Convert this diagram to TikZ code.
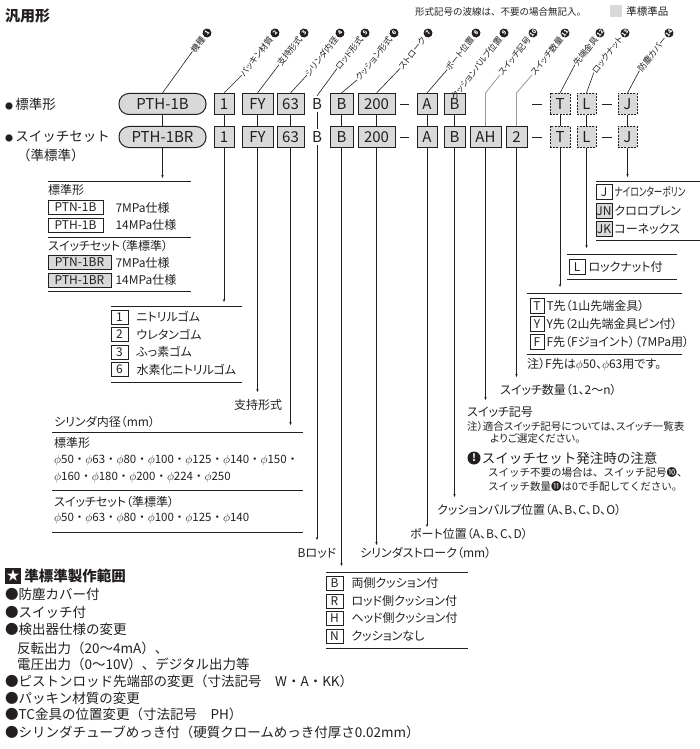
\documentclass[tikz,border=0pt]{standalone}
\usepackage{fontspec}
\setmainfont{Noto Sans CJK JP}[RawFeature={+palt}]
\newfontfamily\jpfull{Noto Sans CJK JP}
\usepackage{graphicx}
\usepackage{tikz}
\usetikzlibrary{arrows.meta, positioning, calc}

\definecolor{ink}{HTML}{231F20}
\definecolor{boxgray}{HTML}{D9D9D9}
\definecolor{leadgray}{HTML}{9A9A9A}

\newcommand{\fs}[1]{\fontsize{#1}{#1}\selectfont}
\newcommand{\dotb}{{\fs{8}●}}

\tikzset{
    codebox/.style={draw=ink, line width=1pt, fill=boxgray, inner sep=1pt,
        minimum height=21pt, font=\fs{15}, text=ink},
    optcode/.style={codebox, dash pattern=on 2pt off 1.2pt},
    pill/.style={codebox, rounded corners=10pt, minimum width=87pt},
    keybox/.style={draw=ink, line width=0.6pt, fill=white, inner sep=0.5pt,
        minimum height=14pt, font=\fs{12}, text=ink},
    sbox/.style={keybox, fill=boxgray},
    txt/.style={anchor=west, inner sep=0pt, font=\fs{12}, text=ink},
    notetxt/.style={txt, font=\fs{10.5}},
    fulltxt/.style={txt, font=\jpfull\fs{10.5}},
    boretxt/.style={txt, font=\jpfull\fs{11.5}},
    bigtxt/.style={txt, font=\jpfull\fs{13.5}},
    tabrule/.style={draw=ink, line width=0.7pt},
    leadline/.style={draw=ink, line width=0.6pt, -{Stealth[length=3pt, width=2.4pt]}},
    tieline/.style={draw=ink, line width=0.6pt},
    graytie/.style={draw=leadgray, line width=0.8pt},
    tagtxt/.style={rotate=52, inner sep=0pt, font=\fs{8.5}, text=ink},
    cnum/.style={circle, fill=ink, text=white, inner sep=0pt, minimum size=9pt,
        font=\fs{6}\bfseries, rotate=52},
}

\NewDocumentCommand{\tagline}{%
    m   % node name
    m   % x of the circled number
    m   % number
    m   % text
    }{%
    \node[cnum] (c#1) at (#2,33) {#3};
    \node[tagtxt, anchor=east] (#1) at ([shift={(-1pt,-1pt)}]c#1.west) {#4};
}

\begin{document}
\begin{tikzpicture}[x=1pt, y=-1pt]
    \useasboundingbox (0,0) rectangle (700,749);
    % header
    \node[txt, font=\jpfull\fs{15}\bfseries] (title) at (5,16) {汎用形};
    \node[txt, font=\jpfull\fs{9.5}] (wavenote) at (415,12) {形式記号の波線は、不要の場合無記入。};
    \node[fill=boxgray, minimum size=12pt, inner sep=0pt] (keysq) at (616,11) {};
    \node[txt, font=\jpfull\fs{10.5}, right=4pt of keysq] (keytxt) {準標準品};

    \node[bigtxt] (lstd) at (5,104) {\dotb\,標準形};
    \node[bigtxt] (lsw) at (5,137) {\dotb\,スイッチセット};
    \node[bigtxt] (lsw2) at (17,155) {（準標準）};

    % the two rows of codes
    \foreach \r/\y in {1/104, 2/137} {
        \node[pill] (p\r) at (162.5,\y) {PTH-1B\ifnum\r=2 R\fi};
        \node[codebox, minimum width=20pt] (n\r) at (224,\y) {1};
        \node[codebox, minimum width=31pt] (fy\r) at (257.5,\y) {FY};
        \node[codebox, minimum width=27pt] (d\r) at (290.5,\y) {63};
        \node[inner sep=0pt, minimum height=16pt, font=\fs{15}, text=ink] (rb\r) at (317,\y) {B};
        \node[codebox, minimum width=23pt] (cb\r) at (341.5,\y) {B};
        \node[codebox, minimum width=37pt] (st\r) at (376.5,\y) {200};
        \node[codebox, minimum width=20pt] (pa\r) at (427,\y) {A};
        \node[codebox, minimum width=21pt] (cv\r) at (454.5,\y) {B};
        \node[optcode, minimum width=20pt] (tp\r) at (560,\y) {T};
        \node[optcode, minimum width=19pt] (ln\r) at (586.5,\y) {L};
        \node[optcode, minimum width=19pt] (cov\r) at (627.5,\y) {J};
        \draw[tieline] (400,\y) -- (409,\y) (532,\y) -- (542,\y) (602,\y) -- (612,\y);
    }
    \node[codebox, minimum width=31pt] (ah2) at (485.5,137) {AH};
    \node[codebox, minimum width=21pt] (sw2) at (516.5,137) {2};
    \foreach \k in {p, n, fy, d, rb, cb, st, pa, cv, tp, ln, cov}
        \draw[tieline] (\k1) -- (\k2);

    % slanted item names
    \tagline{t1}{207}{1}{機種}
    \tagline{t2}{275}{2}{パッキン材質}
    \tagline{t3}{304}{3}{支持形式}
    \tagline{t4}{340}{4}{シリンダ内径}
    \tagline{t5}{365}{5}{ロッド形式}
    \tagline{t6}{394}{6}{クッション形式}
    \tagline{t7}{428}{7}{ストローク}
    \tagline{t8}{476}{8}{ポート位置}
    \tagline{t9}{504}{9}{クッションバルブ位置}
    \tagline{t10}{533}{10}{スイッチ記号}
    \tagline{t11}{565}{11}{スイッチ数量}
    \tagline{t12}{600}{12}{先端金具}
    \tagline{t13}{625}{13}{ロックナット}
    \tagline{t14}{669}{14}{防塵カバー}
    \foreach \k/\t in {p1/t1, n1/t2, fy1/t3, d1/t4, rb1/t5, cb1/t6, st1/t7,
        pa1/t8, cv1/t9, tp1/t12, ln1/t13, cov1/t14}
        \draw[tieline] (\k.north) -- (\t.west);
    \draw[graytie] (ah2.north) -- (ah2.north |- n1.north) -- (t10.west);
    \draw[graytie] (sw2.north) -- (sw2.north |- n1.north) -- (t11.west);

    % leaders down to the tables
    \foreach \k/\e in {p2/178, n2/302, fy2/392, d2/425, rb2/540, cb2/566, st2/545,
        pa2/527, cv2/497, ah2/400, sw2/377, tp2/287, ln2/248, cov2/177} {
        \coordinate (e\k) at (\k.south |- 0,\e);
        \draw[leadline] (\k) -- (e\k);
    }

    % model
    \draw[tabrule] (48,181) -- (191,181) (48,237) -- (191,237) (48,291) -- (191,291);
    \node[txt] (k0) at (48,190) {標準形};
    \node[keybox, minimum width=55pt] (k1) at (75.5,207.5) {PTN-1B};
    \node[keybox, minimum width=55pt] (k2) at (75.5,225) {PTH-1B};
    \node[txt, right=12pt of k1] (k1t) {7MPa仕様};
    \node[txt, right=12pt of k2] (k2t) {14MPa仕様};
    \node[txt] (k3) at (48,246) {スイッチセット（準標準）};
    \node[sbox, minimum width=63pt] (k4) at (79.5,262.5) {PTN-1BR};
    \node[sbox, minimum width=63pt] (k5) at (79.5,280) {PTH-1BR};
    \node[txt, right=4pt of k4] (k4t) {7MPa仕様};
    \node[txt, right=4pt of k5] (k5t) {14MPa仕様};

    % packing
    \draw[tabrule] (111,306) -- (242,306) (111,382) -- (242,382);
    \foreach \i/\v/\s/\y in {1/1/ニトリルゴム/317, 2/2/ウレタンゴム/334.5,
        3/3/ふっ素ゴム/352, 4/6/水素化ニトリルゴム/369.5} {
        \node[keybox, minimum width=17pt] (pk\i) at (119.5,\y) {\v};
        \node[txt, right=8pt of pk\i] (pt\i) {\s};
    }

    \node[txt, anchor=center] (fyt) at (258,405) {支持形式};

    % bore
    \node[txt] (bt) at (54,422) {シリンダ内径（mm）};
    \draw[tabrule] (52,432) -- (303,432) (52,490) -- (303,490) (52,532) -- (303,532);
    \node[txt] (b0) at (54,443) {標準形};
    \node[boretxt] (b1) at (54,460) {$\phi$50・$\phi$63・$\phi$80・$\phi$100・$\phi$125・$\phi$140・$\phi$150・};
    \node[boretxt] (b2) at (54,477) {$\phi$160・$\phi$180・$\phi$200・$\phi$224・$\phi$250};
    \node[txt] (b3) at (54,502) {スイッチセット（準標準）};
    \node[boretxt] (b4) at (54,518) {$\phi$50・$\phi$63・$\phi$80・$\phi$100・$\phi$125・$\phi$140};

    % cushion
    \draw[tabrule] (326,572) -- (468,572) (326,648) -- (468,648);
    \foreach \i/\v/\s/\y in {1/B/両側クッション付/583, 2/R/ロッド側クッション付/601,
        3/H/ヘッド側クッション付/618, 4/N/クッションなし/636} {
        \node[keybox, minimum width=17pt] (ck\i) at (334.5,\y) {\v};
        \node[txt, right=8pt of ck\i] (ct\i) {\s};
    }

    \node[txt, anchor=center] (rbt) at (317,553) {Bロッド};
    \node[txt] (stt) at (360,553) {シリンダストローク（mm）};
    \node[txt] (pat) at (410,534) {ポート位置（A、B、C、D）};
    \node[txt] (cvt) at (437,510) {クッションバルブ位置（A、B、C、D、O）};

    % switches
    \node[txt] (swt) at (500,390) {スイッチ数量（1、2〜n）};
    \node[txt] (aht) at (467,412) {スイッチ記号};
    \node[notetxt] (ahn1) at (467,427) {注）適合スイッチ記号については、スイッチ一覧表};
    \node[notetxt] (ahn2) at (490,439) {よりご選定ください。};
    \node[circle, fill=ink, text=white, inner sep=0pt, minimum size=13pt,
        font=\fs{10}\bfseries] (warn) at (474,458) {!};
    \node[txt, font=\jpfull\fs{13.5}, right=1pt of warn] (warnt) {スイッチセット発注時の注意};
    \node[fulltxt] (wn1) at (488,473) {スイッチ不要の場合は、スイッチ記号❿、};
    \node[fulltxt] (wn2) at (488,487) {スイッチ数量⓫は0で手配してください。};

    % rod end
    \draw[tabrule] (527,293) -- (682,293) (527,354) -- (682,354);
    \foreach \i/\v/\s/\y in {1/T/T先（1山先端金具）/306, 2/Y/Y先（2山先端金具ピン付）/324,
        3/F/F先（Fジョイント）（7MPa用）/342} {
        \node[keybox, minimum width=14pt, minimum height=15pt] (tk\i) at (537,\y) {\v};
        \node[txt, right=2pt of tk\i] (tt\i) {\s};
    }
    \node[txt] (tpn) at (527,365) {注）F先は$\phi$50、$\phi$63用です。};

    % lock nut
    \draw[tabrule] (567,254) -- (677,254) (567,279) -- (677,279);
    \node[keybox, minimum width=16pt, minimum height=15pt] (lk) at (577,267) {L};
    \node[txt, right=3pt of lk] (lkt) {ロックナット付};

    % cover
    \draw[tabrule] (596,181) -- (700,181) (596,240) -- (700,240);
    \node[keybox, minimum width=16pt, minimum height=15pt] (jk1) at (604,192) {J};
    \node[sbox, minimum width=16pt, minimum height=15pt] (jk2) at (604,211) {JN};
    \node[sbox, minimum width=16pt, minimum height=15pt] (jk3) at (604,229) {JK};
    \node[txt, right=2pt of jk1] (jt1) {\scalebox{0.72}[1]{ナイロンターポリン}};
    \node[txt, right=2pt of jk2] (jt2) {クロロプレン};
    \node[txt, right=2pt of jk3] (jt3) {コーネックス};

    % semi-standard list
    \node[fill=ink, text=white, minimum size=16pt, inner sep=0pt, font=\fs{13}] (star) at (13,576) {★};
    \node[txt, font=\jpfull\fs{14.5}\bfseries, right=3pt of star] (semi) {準標準製作範囲};
    \foreach \i/\x/\y/\s in {1/5/594/●防塵カバー付, 2/5/612/●スイッチ付, 3/5/629/●検出器仕様の変更,
        4/17/648/反転出力（20〜4mA）、, 5/17/664/電圧出力（0〜10V）、デジタル出力等,
        6/5/681/●ピストンロッド先端部の変更（寸法記号　W・A・KK）, 7/5/698/●パッキン材質の変更,
        8/5/714/●TC金具の位置変更（寸法記号　PH）,
        9/5/732/●シリンダチューブめっき付（硬質クロームめっき付厚さ0.02mm）}
        \node[bigtxt] (s\i) at (\x,\y) {\s};
\end{tikzpicture}
\end{document}
